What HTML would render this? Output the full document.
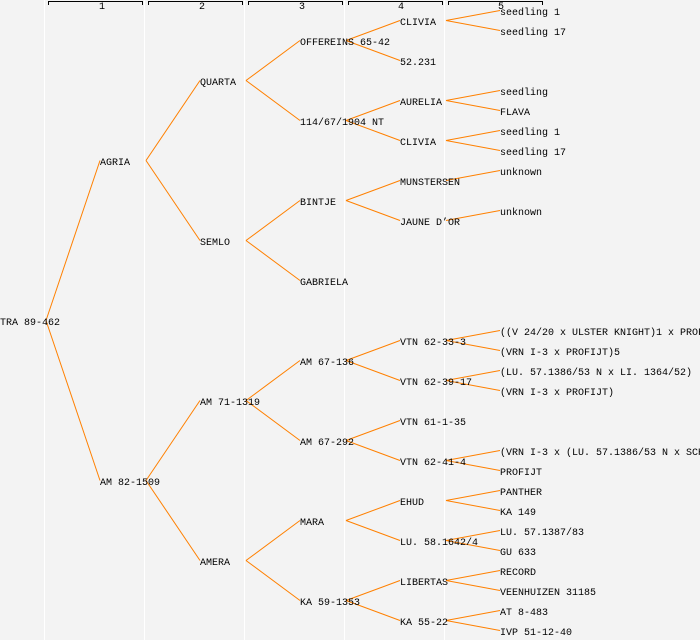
<!DOCTYPE html>
<html><head><meta charset="utf-8"><style>
html,body{margin:0;padding:0;background:#f3f3f3;}
svg{display:block;}
text{font-family:"Liberation Mono","DejaVu Sans Mono",monospace;font-size:10px;fill:#000;}
</style></head><body>
<svg id="s" width="700" height="640" xmlns="http://www.w3.org/2000/svg">
<rect width="700" height="640" fill="#f3f3f3"/>
<g stroke="#ffffff" stroke-width="1">
<line x1="44.5" y1="0" x2="44.5" y2="640"/><line x1="144.5" y1="0" x2="144.5" y2="640"/>
<line x1="244.5" y1="0" x2="244.5" y2="640"/><line x1="344.5" y1="0" x2="344.5" y2="640"/>
<line x1="444.5" y1="0" x2="444.5" y2="640"/>
</g>
<g stroke="#000" fill="none" stroke-width="1">
<path d="M48.5 5V1.5H142.5V5"/><path d="M148.5 5V1.5H242.5V5"/><path d="M248.5 5V1.5H342.5V5"/>
<path d="M348.5 5V1.5H442.5V5"/><path d="M448.5 5V1.5H542.5V5"/>
</g>
<g style="font-size:8px"><text x="99" y="9">1</text><text x="199" y="9">2</text><text x="299" y="9">3</text><text x="398" y="9">4</text><text x="498" y="9">5</text></g>
<g id="e" stroke="#ff8000" stroke-width="1" fill="none"></g>
<g id="t"></g>
</svg>
<script>
var N=[
[0,320,"TRA 89-462"],
[1,160,"AGRIA"],[1,480,"AM 82-1509"],
[2,80,"QUARTA"],[2,240,"SEMLO"],[2,400,"AM 71-1319"],[2,560,"AMERA"],
[3,40,"OFFEREINS 65-42"],[3,120,"114/67/1904 NT"],[3,200,"BINTJE"],[3,280,"GABRIELA"],[3,360,"AM 67-136"],[3,440,"AM 67-292"],[3,520,"MARA"],[3,600,"KA 59-1353"],
[4,20,"CLIVIA"],[4,60,"52.231"],[4,100,"AURELIA"],[4,140,"CLIVIA"],[4,180,"MUNSTERSEN"],[4,220,"JAUNE D\u2019OR"],[4,340,"VTN 62-33-3"],[4,380,"VTN 62-39-17"],[4,420,"VTN 61-1-35"],[4,460,"VTN 62-41-4"],[4,500,"EHUD"],[4,540,"LU. 58.1642/4"],[4,580,"LIBERTAS"],[4,620,"KA 55-22"],
[5,10,"seedling 1"],[5,30,"seedling 17"],[5,90,"seedling"],[5,110,"FLAVA"],[5,130,"seedling 1"],[5,150,"seedling 17"],[5,170,"unknown"],[5,210,"unknown"],
[5,330,"((V 24/20 x ULSTER KNIGHT)1 x PROFIJT)"],[5,350,"(VRN I-3 x PROFIJT)5"],[5,370,"(LU. 57.1386/53 N x LI. 1364/52)"],[5,390,"(VRN I-3 x PROFIJT)"],
[5,450,"(VRN I-3 x (LU. 57.1386/53 N x SCHWALBE))"],[5,470,"PROFIJT"],[5,490,"PANTHER"],[5,510,"KA 149"],[5,530,"LU. 57.1387/83"],[5,550,"GU 633"],[5,570,"RECORD"],[5,590,"VEENHUIZEN 31185"],[5,610,"AT 8-483"],[5,630,"IVP 51-12-40"]
];
var E=[[0,320,160],[0,320,480],[1,160,80],[1,160,240],[1,480,400],[1,480,560],
[2,80,40],[2,80,120],[2,240,200],[2,240,280],[2,400,360],[2,400,440],[2,560,520],[2,560,600],
[3,40,20],[3,40,60],[3,120,100],[3,120,140],[3,200,180],[3,200,220],[3,360,340],[3,360,380],[3,440,420],[3,440,460],[3,520,500],[3,520,540],[3,600,580],[3,600,620],
[4,20,10],[4,20,30],[4,100,90],[4,100,110],[4,140,130],[4,140,150],[4,180,170],[4,220,210],[4,340,330],[4,340,350],[4,380,370],[4,380,390],[4,460,450],[4,460,470],[4,500,490],[4,500,510],[4,540,530],[4,540,550],[4,580,570],[4,580,590],[4,620,610],[4,620,630]];
var ns="http://www.w3.org/2000/svg",eg=document.getElementById("e"),tg=document.getElementById("t");
E.forEach(function(a){var l=document.createElementNS(ns,"line");var x1=46+100*a[0];l.setAttribute("x1",x1);l.setAttribute("y1",a[1]+0.5);l.setAttribute("x2",x1+54);l.setAttribute("y2",a[2]+0.5);eg.appendChild(l);});
N.forEach(function(n){var t=document.createElementNS(ns,"text");t.setAttribute("x",n[0]*100);t.setAttribute("y",n[1]+5);t.textContent=n[2];tg.appendChild(t);});
</script>
</body></html>
